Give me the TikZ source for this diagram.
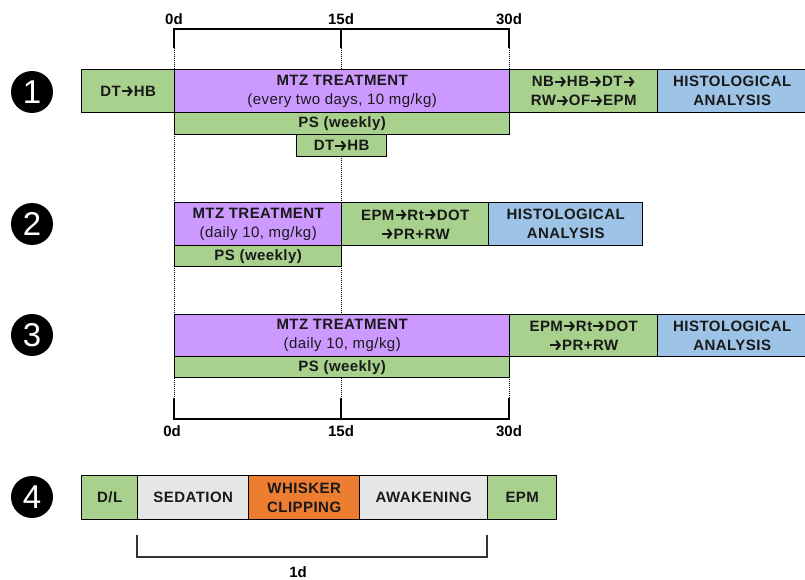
\documentclass[tikz,border=0pt]{standalone}
\usepackage{fontspec}
\usetikzlibrary{arrows.meta}
\setmainfont{Liberation Sans}
\newfontfamily\boxfont[LetterSpace=3]{Liberation Sans}
\newcommand{\ra}{\tikz[baseline=0pt]{\draw[line width=2.1pt, -{Straight Barb[length=3.6pt,width=9pt,line width=2pt]}] (0.6pt,5.3pt) -- (11.5pt,5.3pt);}}
\definecolor{cgreen}{HTML}{A9D18E}
\definecolor{cpurple}{HTML}{CC99FF}
\definecolor{cblue}{HTML}{9DC3E6}
\definecolor{corange}{HTML}{ED7D31}
\definecolor{cgray}{HTML}{E7E6E6}
\begin{document}
\begin{tikzpicture}[x=1pt,y=-1pt,
  box/.style={draw=black, line width=1.4pt, inner sep=0pt, anchor=north west, align=center,
    font=\boxfont\fontsize{15}{19}\selectfont\bfseries, text=black!90},
  num/.style={circle, fill=black, minimum size=42pt, inner sep=0pt, text=white,
    font=\fontsize{33}{33}\selectfont},
  axis/.style={line width=1.4pt, draw=black},
  guide/.style={line width=0.9pt, dash pattern=on 1pt off 1pt},
  lbl/.style={font=\fontsize{15}{15}\selectfont\bfseries, inner sep=0pt}]
\useasboundingbox (0,0) rectangle (805,580);

% guide coordinates
\coordinate (a0t) at (174,48); \coordinate (a15t) at (341,48); \coordinate (a30t) at (509,48);
\coordinate (a0b) at (174,398); \coordinate (a15b) at (341,398); \coordinate (a30b) at (509,398);
\coordinate (a0tl) at (174,29); \coordinate (a30tl) at (509,29); \coordinate (a15tl) at (341,29);
\coordinate (a0bl) at (174,419); \coordinate (a30bl) at (509,419); \coordinate (a15bl) at (341,419);
\coordinate (r1top) at (509,69); \coordinate (r3bot) at (509,377);

% dotted guides
\draw[guide] (a0t) -- (a0b);
\draw[guide] (a15t) -- (a15b);
\draw[guide] (a30t) -- (r1top);
\draw[guide] (r3bot) -- (a30b);

% top axis
\draw[axis] (a0t) -- (a0tl) -- (a30tl) -- (a30t);
\draw[axis] (a15tl) -- (a15t);
\node[lbl] (l0t) at (174,19) {0d};
\node[lbl] (l15t) at (341,19) {15d};
\node[lbl] (l30t) at (509,19) {30d};

% bottom axis
\draw[axis] (a0b) -- (a0bl) -- (a30bl) -- (a30b);
\draw[axis] (a15bl) -- (a15b);
\node[lbl] (l0b) at (172,431) {0d};
\node[lbl] (l15b) at (341,431) {15d};
\node[lbl] (l30b) at (509,431) {30d};

% row 1
\node[num] (n1) at (32,92) {1};
\node[box, fill=cgreen, minimum width=93pt, minimum height=43pt] (r1a) at (81,69) {DT\ra HB};
\node[box, fill=cpurple, minimum width=335pt, minimum height=43pt] (r1b) at (174,69)
  {MTZ TREATMENT\\ {\mdseries (every two days, 10 mg/kg)}};
\node[box, fill=cgreen, minimum width=148pt, minimum height=43pt] (r1c) at (509,69)
  {NB\ra HB\ra DT\ra\\ RW\ra OF\ra EPM};
\node[box, fill=cblue, minimum width=149pt, minimum height=43pt] (r1d) at (657,69)
  {HISTOLOGICAL\\ ANALYSIS};
\node[box, fill=cgreen, minimum width=335pt, minimum height=22pt] (r1e) at (174,112) {PS (weekly)};
\node[box, fill=cgreen, minimum width=90pt, minimum height=22pt] (r1f) at (296,134) {DT\ra HB};

% row 2
\node[num] (n2) at (32,224) {2};
\node[box, fill=cpurple, minimum width=167pt, minimum height=43pt] (r2a) at (174,202)
  {MTZ TREATMENT\\ {\mdseries (daily 10, mg/kg)}};
\node[box, fill=cgreen, minimum width=147pt, minimum height=43pt] (r2b) at (341,202)
  {EPM\ra Rt\ra DOT\\ \ra PR+RW};
\node[box, fill=cblue, minimum width=154pt, minimum height=43pt] (r2c) at (488,202)
  {HISTOLOGICAL\\ ANALYSIS};
\node[box, fill=cgreen, minimum width=167pt, minimum height=21pt] (r2d) at (174,245) {PS (weekly)};

% row 3
\node[num] (n3) at (32,335) {3};
\node[box, fill=cpurple, minimum width=335pt, minimum height=42pt] (r3a) at (174,314)
  {MTZ TREATMENT\\ {\mdseries (daily 10, mg/kg)}};
\node[box, fill=cgreen, minimum width=148pt, minimum height=42pt] (r3b) at (509,314)
  {EPM\ra Rt\ra DOT\\ \ra PR+RW};
\node[box, fill=cblue, minimum width=149pt, minimum height=42pt] (r3c) at (657,314)
  {HISTOLOGICAL\\ ANALYSIS};
\node[box, fill=cgreen, minimum width=335pt, minimum height=21pt] (r3d) at (174,356) {PS (weekly)};

% row 4
\node[num] (n4) at (32,497) {4};
\node[box, fill=cgreen, minimum width=56pt, minimum height=44pt] (r4a) at (81,475) {D/L};
\node[box, fill=cgray, minimum width=111pt, minimum height=44pt] (r4b) at (137,475) {SEDATION};
\node[box, fill=corange, minimum width=111pt, minimum height=44pt] (r4c) at (248,475) {WHISKER\\ CLIPPING};
\node[box, fill=cgray, minimum width=128pt, minimum height=44pt] (r4d) at (359,475) {AWAKENING};
\node[box, fill=cgreen, minimum width=69pt, minimum height=44pt] (r4e) at (487,475) {EPM};

% bracket
\coordinate (bL) at (137,535); \coordinate (bR) at (487,535);
\coordinate (bLd) at (137,557); \coordinate (bRd) at (487,557);
\draw[line width=1.2pt, draw=black!80] (bL) -- (bLd) -- (bRd) -- (bR);
\node[lbl] (l1d) at (298,572) {1d};
\end{tikzpicture}
\end{document}
